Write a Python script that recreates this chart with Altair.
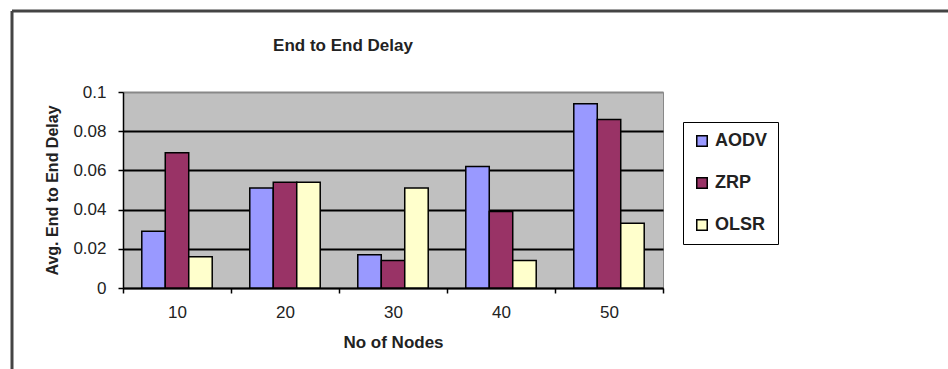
import altair as alt
import pandas as pd

nodes = ["10", "20", "30", "40", "50"]
protocols = ["AODV", "ZRP", "OLSR"]
aodv = [0.029, 0.051, 0.017, 0.062, 0.094]
zrp = [0.069, 0.054, 0.014, 0.039, 0.086]
olsr = [0.016, 0.054, 0.051, 0.014, 0.033]
colors = ["#9999FF", "#993366", "#FFFFCC"]
y_ticks = [0, 0.02, 0.04, 0.06, 0.08, 0.1]
title_text = "End to End Delay"

rows = []
for p, vals in zip(protocols, [aodv, zrp, olsr]):
    for n, v in zip(nodes, vals):
        rows.append({"nodes": n, "protocol": p, "delay": v})
df = pd.DataFrame(rows)

FONT = "Liberation Sans"

bars = alt.Chart(df).mark_bar(stroke="black", strokeWidth=1.5).encode(
    x=alt.X("nodes:N", sort=nodes,
            scale=alt.Scale(paddingInner=0, paddingOuter=0),
            axis=alt.Axis(title="No of Nodes", labelAngle=0, tickBand="extent",
                          tickColor="black", tickSize=5, tickWidth=1.5,
                          domainColor="black", domainWidth=1.5,
                          labelFont=FONT, labelFontSize=17, labelColor="#222",
                          labelPadding=11,
                          titleFont=FONT, titleFontSize=17, titleFontWeight="bold",
                          titleColor="#222", titlePadding=14, grid=False)),
    xOffset=alt.XOffset("protocol:N", sort=protocols,
                        scale=alt.Scale(paddingInner=0, paddingOuter=0.8)),
    y=alt.Y("delay:Q", scale=alt.Scale(domain=[0, 0.1], nice=False),
            axis=alt.Axis(title="Avg. End to End Delay", values=y_ticks, format="~g",
                          tickColor="black", tickSize=5, tickWidth=1.5,
                          domainColor="black", domainWidth=1.5,
                          grid=True,
                          gridColor={"condition": {"test": "datum.value >= 0.099", "value": "#888888"},
                                     "value": "black"},
                          gridWidth=2,
                          labelFont=FONT, labelFontSize=17, labelColor="#222",
                          labelPadding=12,
                          titleFont=FONT, titleFontSize=16, titleFontWeight="bold",
                          titleColor="#222", titlePadding=12)),
    color=alt.Color("protocol:N", sort=protocols,
                    scale=alt.Scale(domain=protocols, range=colors),
                    legend=alt.Legend(title=None, orient="none", legendX=560, legendY=30,
                                      symbolType="square", symbolSize=110,
                                      symbolStrokeColor="black", symbolStrokeWidth=1.5,
                                      labelFont=FONT, labelFontSize=18, labelFontWeight="bold",
                                      labelColor="#222", rowPadding=24, padding=10,
                                      strokeColor="black", fillColor="white",
                                      symbolOffset=0, labelOffset=4)),
)

one = alt.Data(values=[{"t": title_text}])
frame_top = alt.Chart(one).mark_rule(color="#444", strokeWidth=3).encode(
    x=alt.value(-111), x2=alt.value(825), y=alt.value(-81))
frame_left = alt.Chart(one).mark_rule(color="#444", strokeWidth=3).encode(
    x=alt.value(-111), y=alt.value(-81), y2=alt.value(277))
title = alt.Chart(one).mark_text(font=FONT, fontSize=17, fontWeight="bold", color="#222",
                                 align="center", baseline="middle").encode(
    x=alt.value(220), y=alt.value(-46), text="t:N")

chart = alt.layer(frame_top, frame_left, title, bars).properties(
    width=540, height=196,
    autosize=alt.AutoSizeParams(type="none"),
    padding={"left": 123, "top": 92, "right": 285, "bottom": 81},
    background="white",
).configure_view(fill="#C0C0C0", stroke="#888888", strokeWidth=1)

chart.save("out.html", embed_options={"renderer": "svg", "actions": False})
